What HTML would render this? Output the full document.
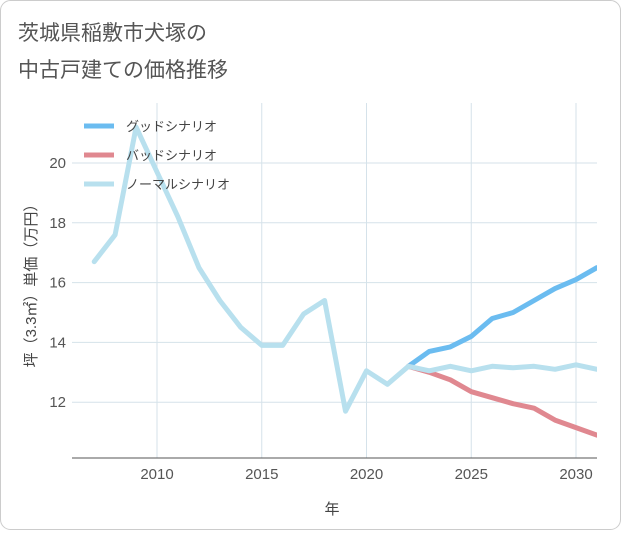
<!DOCTYPE html>
<html><head><meta charset="utf-8"><style>
body{margin:0;background:#fff;}
#wrap{position:relative;width:621px;height:530px;font-family:"Liberation Sans","Noto Sans CJK JP",sans-serif;}
</style></head><body>
<div id="wrap">
<svg id="chart" width="621" height="530" xmlns="http://www.w3.org/2000/svg">
<rect x="0.5" y="0.5" width="620" height="529" rx="10" fill="#fff" stroke="#ccc"/>
<text x="18" y="40" font-size="21" fill="#555">茨城県稲敷市犬塚の</text>
<text x="18" y="77" font-size="21" fill="#555">中古戸建ての価格推移</text>
<g id="grid"></g>
<g id="series"></g>
<g id="legend"></g>
<text x="332" y="514" font-size="15" fill="#444" text-anchor="middle">年</text>
<text transform="translate(36,282) rotate(-90)" font-size="15" fill="#444" text-anchor="middle">坪（3.3㎡）単価（万円）</text>
</svg>
</div>
<script>
const years=[2007,2008,2009,2010,2011,2012,2013,2014,2015,2016,2017,2018,2019,2020,2021,2022,2023,2024,2025,2026,2027,2028,2029,2030,2031];
const normalVals=[16.7,17.6,21.2,19.7,18.2,16.5,15.4,14.5,13.9,13.9,14.95,15.4,11.7,13.05,12.6,13.2,13.05,13.2,13.05,13.2,13.15,13.2,13.1,13.25,13.1];
const futureYears=[2022,2023,2024,2025,2026,2027,2028,2029,2030,2031];
const goodVals=[13.2,13.7,13.85,14.2,14.8,15.0,15.4,15.8,16.1,16.5];
const badVals=[13.2,13.0,12.75,12.35,12.15,11.95,11.8,11.4,11.15,10.9];
const xTicks=[2010,2015,2020,2025,2030];
const yTicks=[12,14,16,18,20];
const legendLabels=["グッドシナリオ","バッドシナリオ","ノーマルシナリオ"];
const legendColors=["#6bbcf0","#e08890","#b8e0ee"];

const L=72,R=597,T=103,B=458;
const X=y=>157+(y-2010)*20.95;
const Y=v=>163+(20-v)*29.9;
const NS="http://www.w3.org/2000/svg";
function mk(tag,attrs,parent){const e=document.createElementNS(NS,tag);for(const k in attrs)e.setAttribute(k,attrs[k]);parent.appendChild(e);return e;}
const grid=document.getElementById('grid'),series=document.getElementById('series'),legend=document.getElementById('legend');
xTicks.forEach(t=>{
 const l=mk('line',{x1:X(t),x2:X(t),y1:T,y2:B,stroke:'#d5e2ea','stroke-width':1},grid);
 
 
 const tx=mk('text',{x:X(t),y:479,'font-size':15,fill:'#555','text-anchor':'middle'},grid);tx.textContent=t;
 
 
});
yTicks.forEach(t=>{
 const l=mk('line',{x1:L,x2:R,y1:Y(t),y2:Y(t),stroke:'#d5e2ea','stroke-width':1},grid);
 
 
 const tx=mk('text',{x:66,y:Y(t)+5,'font-size':15,fill:'#555','text-anchor':'end'},grid);tx.textContent=t;
 
 
});
const ax=mk('line',{x1:L,x2:R,y1:B,y2:B,stroke:'#555','stroke-width':1},grid);


function line(xs,vs,color,name){
 const d=xs.map((x,i)=>(i?'L':'M')+X(x).toFixed(1)+','+Y(vs[i]).toFixed(1)).join(' ');
 const p=mk('path',{d:d,fill:'none',stroke:color,'stroke-width':5,'stroke-linejoin':'round','stroke-linecap':'round'},series);
 
 
}
series.innerHTML='';
const clip=mk('clipPath',{id:'pc'},document.getElementById('chart'));mk('rect',{x:L,y:T-5,width:R-L,height:B-T+5},clip);
series.setAttribute('clip-path','url(#pc)');
line(futureYears,goodVals,legendColors[0],'good-scenario-line');
line(futureYears,badVals,legendColors[1],'bad-scenario-line');
line(years,normalVals,legendColors[2],'normal-scenario-line');
legendLabels.forEach((lab,i)=>{
 const y=126+i*29;
 const l=mk('line',{x1:84,x2:114,y1:y,y2:y,stroke:legendColors[i],'stroke-width':5},legend);
 
 
 const t=mk('text',{x:126,y:y+5,'font-size':13,fill:'#444'},legend);t.textContent=lab;
 
 
});
</script>
</body></html>
